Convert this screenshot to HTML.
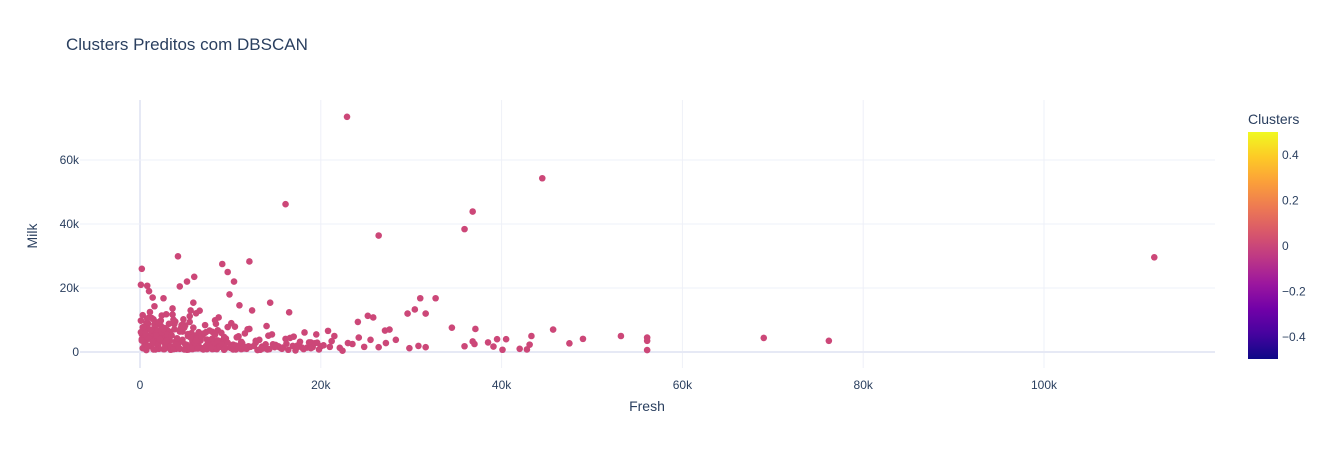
<!DOCTYPE html>
<html><head><meta charset="utf-8">
<style>
body{margin:0;background:#fff;font-family:"Liberation Sans",Arial,sans-serif;}
svg text{font-family:"Liberation Sans",Arial,sans-serif;fill:#2a3f5f;}
</style></head>
<body>
<svg id="chart" width="1329" height="450">
<defs>
<linearGradient id="plasma" x1="0" y1="1" x2="0" y2="0">
<stop offset="0" stop-color="#0d0887"/><stop offset="0.111" stop-color="#46039f"/>
<stop offset="0.222" stop-color="#7201a8"/><stop offset="0.333" stop-color="#9c179e"/>
<stop offset="0.444" stop-color="#bd3786"/><stop offset="0.556" stop-color="#d8576b"/>
<stop offset="0.667" stop-color="#ed7953"/><stop offset="0.778" stop-color="#fb9f3a"/>
<stop offset="0.889" stop-color="#fdca26"/><stop offset="1" stop-color="#f0f921"/>
</linearGradient>
</defs>
<text x="66" y="50" font-size="17">Clusters Preditos com DBSCAN</text>
<g id="grid"></g>
<g id="pts"></g>
<g id="axes"></g>
<text x="647" y="411" font-size="14" text-anchor="middle">Fresh</text>
<text transform="translate(37,236) rotate(-90)" font-size="14" text-anchor="middle">Milk</text>
<text x="1248" y="124" font-size="14">Clusters</text>
<rect x="1248" y="132" width="30" height="227" fill="url(#plasma)"/>
<g id="cb"></g>
</svg>
<script>
const xTicks=[0,20000,40000,60000,80000,100000];
const xTickLabels=["0","20k","40k","60k","80k","100k"];
const yTicks=[0,20000,40000,60000];
const yTickLabels=["0","20k","40k","60k"];
const cbTicks=[0.4,0.2,0,-0.2,-0.4];
const cbTickLabels=["0.4","0.2","0","\u22120.2","\u22120.4"];
// Fresh (k), Milk (k)
const fresh=[22.9,16.1,44.5,36.8,26.4,35.9,112.2,4.2,12.1,9.1,0.2,9.7,6,5.2,10.4,4.4,0.1,0.8,1,9.9,1.4,2.6,32.7,31,14.4,5.9,11,1.6,3.6,5.6,12.4,16.5,30.4,29.6,31.6,25.2,25.8,8.7,24.1,34.5,37.1,45.7,27.6,27.1,53.2,49,56.1,56.1,56.1,69,76.2,47.5,43.3,40.5,39.5,38.5,37,35.9,42,42.8,40.1,43.1,36.8,39.1,31.6,30.8,29.8,28.3,27.2,26.4,25.5,24.2,23,22.4,21.5,20.8,20,19.5,18.9,
0.3,0.5,0.9,1.2,1.5,1.8,2.1,2.4,2.8,3.1,3.5,3.9,4.3,4.7,5.1,5.5,5.9,6.3,6.8,7.2,7.7,8.1,8.6,9,9.5,10,10.5,11,11.6,12.2,12.8,13.4,14,14.7,15.4,16.1,16.9,17.7,18.5,19.3,
0.2,0.6,1,1.4,1.9,2.3,2.7,3.2,3.6,4.1,4.6,5,5.5,6,6.5,7,7.5,8,8.5,9.1,9.7,10.3,10.9,11.5,12.1,12.8,13.5,14.2,15,15.8,16.6,17.4,18.2,19.1,20.3,21.2,22.1,23.5,24.8,
0.1,0.4,0.8,1.1,1.6,2,2.5,2.9,3.3,3.8,4.2,4.8,5.3,5.8,6.2,6.7,7.3,7.9,8.4,8.9,9.4,10.1,10.7,11.3,11.9,12.6,13.2,13.9,14.6,15.3,16.2,17,17.9,18.7,19.6,21,
0.3,0.7,1.3,1.7,2.2,2.6,3,3.4,3.9,4.4,4.9,5.4,5.8,6.4,6.9,7.4,8.2,8.8,9.3,10.2,11.2,12,13,14.3,15.6,17.2,
0.2,0.9,1.5,2,2.7,3.3,4,4.6,5.2,6.1,7,8,9.2,10.6,11.8,13.3,0.5,1.1,1.8,2.4,3,3.7,4.5,5.7,6.6,7.6,8.3,
0.1,0.3,0.5,0.7,0.9,1.1,1.3,1.5,1.7,1.9,2.1,2.3,2.5,2.7,3,3.2,0.2,0.4,0.6,0.8,1,1.2,1.4,1.6,1.8,2,2.2,2.4,2.6,2.9,
3.4,3.7,4,4.3,4.6,4.9,5.2,5.5,5.8,6.1,6.4,6.7,7,7.3,7.6,7.9,8.2,8.5,8.8,9.1,9.4,9.7,10,10.3,10.6,10.9,11.2,11.5,
3.5,3.8,4.1,4.4,4.7,5,5.3,5.6,5.9,6.2,6.5,6.8,7.1,7.4,7.7,8,8.3,8.6,9,9.3,13.6,14.1,14.9,15.7,16.4,17.3,18.1,18.9,19.8];
const milk=[73.5,46.2,54.3,43.9,36.4,38.4,29.6,29.9,28.3,27.5,26,25,23.5,22,22,20.5,21,20.7,19,18,17,16.8,16.8,16.8,15.4,15.4,14.6,14.3,13.6,13,13,12.4,13.3,12,12,11.3,10.8,10.8,9.4,7.6,7.2,7,7,6.7,5,4.1,4.5,3.5,0.6,4.4,3.5,2.7,5,4,4,3,2.5,1.8,1,0.8,0.7,2.3,3.3,1.7,1.5,1.9,1.2,3.8,2.8,1.5,3.8,4.5,2.8,0.4,5,6.6,1.8,5.5,3,
1.2,2.5,8.9,1.8,10.2,3.4,1,7.1,2.2,4.9,1.4,9.5,3,6.4,1.7,11.2,2.6,5.3,1.1,8.4,3.7,1.5,6.8,2.1,4.2,1.3,7.9,2,5.8,1.6,3.5,1.2,8.1,2.4,1.5,4.1,1.9,3.2,1.4,2.7,
5.6,3.1,10.8,6,2.9,8.2,4.5,1.3,11.7,3.9,6.8,2.4,9.4,4.3,1.9,5.7,2.7,6.3,1.6,3.5,7.8,2.3,4.9,1.1,7.2,2.9,1.7,5.1,2.2,1.4,4.4,2,6.1,1.5,2.1,3.4,1.3,2.5,1.6,
9.8,6.7,4.1,12.5,7.5,2.1,5.4,11.8,3.6,8.7,2.3,10.2,5,3.3,12.1,4,6.2,2.6,8.8,3.1,1.2,9,4.6,2.8,7.1,1.9,3.8,2.4,5.5,1.8,2.6,4.8,1.4,3,2.9,1.6,
7.7,0.6,4.7,0.8,6.5,0.9,2,0.7,3.2,1,7.6,0.8,3.9,1.1,5.3,0.9,1,2.1,0.7,1.3,0.9,1.8,0.6,0.9,1.2,0.5,
4,1.9,0.8,5.1,0.9,6.3,1,8.4,0.7,1.1,1.2,0.9,1.4,0.8,1,0.7,3.8,4.6,2.7,11.4,6.9,10.1,7.4,5.9,12.9,3.6,9.9,
6.2,11.5,4.4,9.1,7.3,5.1,10.6,3.9,8.2,6.6,4.8,9.8,3.3,7.5,5.4,8.8,3.6,7.8,5.9,10.4,4.2,6.9,3.1,8.6,5.2,9.3,4,6.1,7.2,3.4,
1.8,0.9,2.6,1.3,3.3,0.8,2.2,1.5,0.9,2.8,1.2,3.6,0.8,1.9,2.5,1.1,3.1,0.9,1.6,2.3,1,2.9,1.4,0.8,2,1.2,3.2,1.7,
5.2,7.1,4.3,6.4,3.8,8.3,5.6,4.5,7.6,3.5,6.2,4.9,5.8,3.9,6.7,4.2,5.4,3.6,6,4.7,1.1,0.8,1.5,1.0,0.7,1.3,0.9,1.2,0.8];
const xs=v=>140+v*9.04, ys=v=>352-v*3.2;
const NS='http://www.w3.org/2000/svg';
const g=document.getElementById('grid'),ax=document.getElementById('axes'),pts=document.getElementById('pts'),cb=document.getElementById('cb');
function mk(tag,attrs,parent){const e=document.createElementNS(NS,tag);for(const k in attrs)e.setAttribute(k,attrs[k]);parent.appendChild(e);return e;}
xTicks.forEach((t,i)=>{const x=xs(t/1000);
 const l=mk('line',{x1:x,x2:x,y1:100,y2:368,stroke:t===0?'#e6e9f5':'#eef0f8','stroke-width':t===0?2:1},g);
 
 
 const tx=mk('text',{x:x,y:389,'font-size':12,'text-anchor':'middle'},ax);tx.textContent=xTickLabels[i];
 
 });
yTicks.forEach((t,i)=>{const y=ys(t/1000);
 const l=mk('line',{x1:80,x2:1215,y1:y,y2:y,stroke:t===0?'#e6e9f5':'#eef0f8','stroke-width':t===0?2:1},g);
 
 
 const tx=mk('text',{x:79,y:y+4,'font-size':12,'text-anchor':'end'},ax);tx.textContent=yTickLabels[i];
 
 });
fresh.forEach((f,i)=>{if(milk[i]===undefined)return;
 const c=mk('circle',{cx:xs(f),cy:ys(milk[i]),r:3.3,fill:'#cc4778'},pts);
 
 });
cbTicks.forEach((t,i)=>{const y=246-t*227;
 const tx=mk('text',{x:1282,y:y+4,'font-size':12},cb);tx.textContent=cbTickLabels[i];
 
 });
</script>
</body></html>
